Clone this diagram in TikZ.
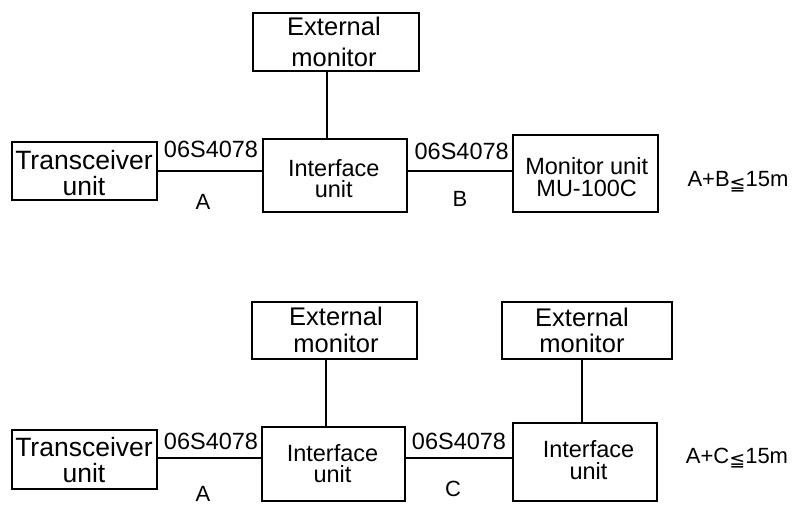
\documentclass[tikz,border=0pt]{standalone}
\usepackage{fontspec}
\setmainfont{Liberation Sans}
\newfontfamily\dejavu{DejaVu Sans}
\newcommand\myfs[2]{\fontsize{#1}{#2}\selectfont}
\newcommand\myleqq{\raisebox{-3.5pt}{\dejavu\myfs{19}{19}≦}}
\begin{document}
\begin{tikzpicture}[x=1pt,y=-1pt,
  box/.style={draw, line width=1.8pt, inner sep=0pt, outer sep=0pt},
  wire/.style={line width=1.8pt},
  lbl/.style={inner sep=0pt, outer sep=0pt, align=center},
  cable/.style={inner sep=0pt, anchor=base, font=\myfs{23.5}{24}},
  len/.style={inner sep=0pt, anchor=base, font=\myfs{22}{22}}]
\useasboundingbox (0,0) rectangle (795,510);

% ---------- top diagram: boxes ----------
\node[box, minimum width=166pt, minimum height=58pt] (em1) at (336,42) {};
\node[box, minimum width=145pt, minimum height=58pt] (tr1) at (84.5,171) {};
\node[box, minimum width=144pt, minimum height=73pt] (if1) at (335,175.5) {};
\node[box, minimum width=145pt, minimum height=77pt] (mu) at (585.5,173.5) {};

% ---------- bottom diagram: boxes ----------
\node[box, minimum width=165pt, minimum height=57pt] (em2) at (334.5,330.5) {};
\node[box, minimum width=170pt, minimum height=57pt] (em3) at (587,330.5) {};
\node[box, minimum width=145pt, minimum height=59pt] (tr2) at (84.5,459.5) {};
\node[box, minimum width=143pt, minimum height=74pt] (if2) at (333.5,464) {};
\node[box, minimum width=144pt, minimum height=78pt] (if3) at (585,462) {};

% ---------- connectors ----------
\coordinate (v1) at (327,0);
\coordinate (v2) at (326,0);
\coordinate (v3) at (582,0);
\coordinate (h2) at (0,458);
\draw[wire] (tr1.east) -- (tr1.east -| if1.west);
\draw[wire] (if1.east |- tr1.east) -- (mu.west |- tr1.east);
\draw[wire] (em1.south -| v1) -- (if1.north -| v1);
\draw[wire] (tr2.east |- h2) -- (if2.west |- h2);
\draw[wire] (if2.east |- h2) -- (if3.west |- h2);
\draw[wire] (em2.south -| v2) -- (if2.north -| v2);
\draw[wire] (em3.south -| v3) -- (if3.north -| v3);

% ---------- box texts ----------
\node[lbl, font=\myfs{25.5}{31}] (em1t) at (334,42.2) {External\\monitor};
\node[lbl, font=\myfs{26.5}{26}] (tr1t) at (84,173.5) {Transceiver\\unit};
\node[lbl, font=\myfs{23.5}{21.5}] (if1t) at (333.8,178.4) {Interface\\unit};
\node[lbl, font=\myfs{23.5}{22}] (mut) at (586.7,177.5) {Monitor unit\\MU-100C};

\node[lbl, font=\myfs{25.5}{27}] (em2t) at (336,330.2) {External\\monitor};
\node[lbl, font=\myfs{25.5}{26}] (em3t) at (582,330.7) {External\\monitor};
\node[lbl, font=\myfs{26.5}{26}] (tr2t) at (84,460.5) {Transceiver\\unit};
\node[lbl, font=\myfs{23.5}{21.5}] (if2t) at (332.5,463.4) {Interface\\unit};
\node[lbl, font=\myfs{23.5}{21.5}] (if3t) at (588.5,459.9) {Interface\\unit};

% ---------- cable labels ----------
\node[cable] (c1) at (211,158) {06S4078};
\node[cable] (c2) at (461.7,160) {06S4078};
\node[cable] (c3) at (211,449) {06S4078};
\node[cable] (c4) at (459,449) {06S4078};

\node[len] (la1) at (203,210) {A};
\node[len] (lb) at (460,207) {B};
\node[len] (la2) at (203,501) {A};
\node[len] (lc) at (453,496) {C};

\node[len] (r1) at (738,187) {A+B\myleqq15m};
\node[len] (r2) at (737,463) {A+C\myleqq15m};
\end{tikzpicture}
\end{document}
